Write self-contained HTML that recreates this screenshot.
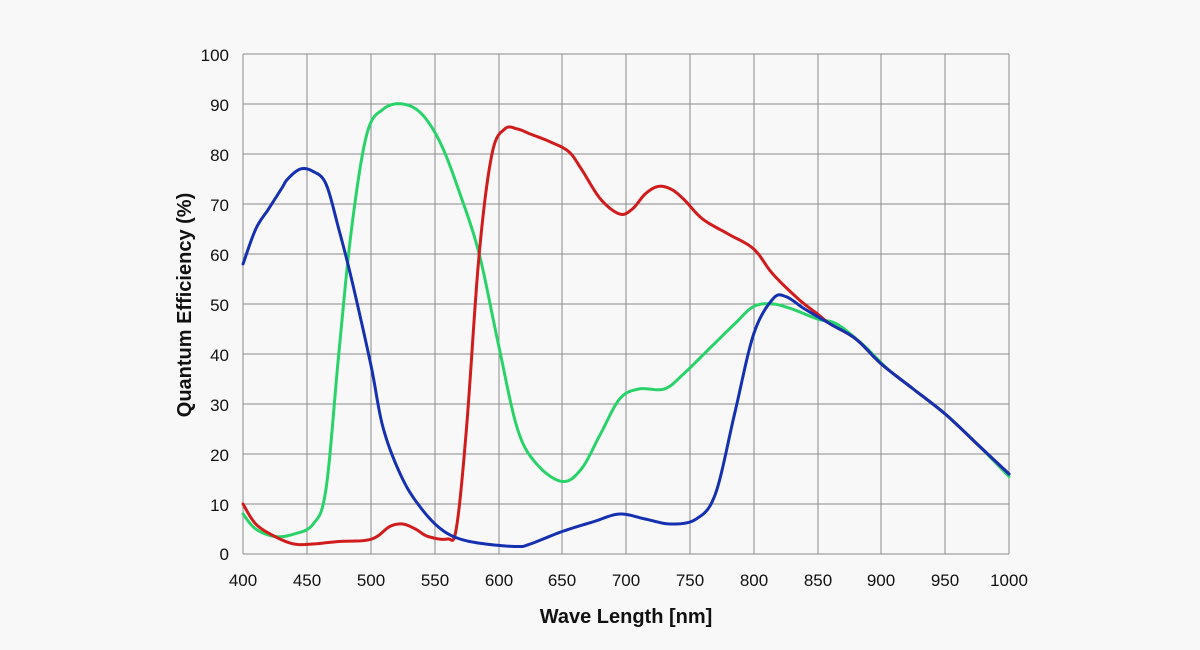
<!DOCTYPE html>
<html><head><meta charset="utf-8"><style>
html,body{margin:0;padding:0;background:#f8f8f8;}
svg{display:block;font-family:"Liberation Sans",sans-serif;}
</style></head><body>
<svg width="1200" height="650" viewBox="0 0 1200 650">
<rect width="1200" height="650" fill="#f8f8f8"/>
<g stroke="#8a8a8a" stroke-width="1" fill="none">
<path d="M243 54V554M307 54V554M371 54V554M435 54V554M499 54V554M562 54V554M626 54V554M690 54V554M754 54V554M818 54V554M881 54V554M945 54V554M1009 54V554"/>
<path d="M243 54H1009M243 104H1009M243 154H1009M243 204H1009M243 254H1009M243 304H1009M243 354H1009M243 404H1009M243 454H1009M243 504H1009M243 554H1009"/>
</g>
<g font-size="17" fill="#111" text-anchor="end">
<text x="229" y="61">100</text><text x="229" y="111">90</text><text x="229" y="161">80</text><text x="229" y="211">70</text><text x="229" y="261">60</text><text x="229" y="311">50</text><text x="229" y="361">40</text><text x="229" y="411">30</text><text x="229" y="461">20</text><text x="229" y="511">10</text><text x="229" y="560">0</text>
</g>
<g font-size="17" fill="#111" text-anchor="middle">
<text x="243" y="586">400</text><text x="307" y="586">450</text><text x="371" y="586">500</text><text x="435" y="586">550</text><text x="499" y="586">600</text><text x="562" y="586">650</text><text x="626" y="586">700</text><text x="690" y="586">750</text><text x="754" y="586">800</text><text x="818" y="586">850</text><text x="881" y="586">900</text><text x="945" y="586">950</text><text x="1009" y="586">1000</text>
</g>
<text x="626" y="623" font-size="20" font-weight="bold" text-anchor="middle" fill="#111">Wave Length [nm]</text>
<text transform="translate(191,305) rotate(-90)" font-size="20" font-weight="bold" text-anchor="middle" fill="#111">Quantum Efficiency (%)</text>
<g transform="matrix(1.2767 0 0 -5 -267.67 554)" fill="none" stroke-width="3" stroke-linejoin="round" stroke-linecap="round">
<polyline class="c" vector-effect="non-scaling-stroke" stroke="#2ad36a" points="400,8 410,5 425,3.5 440,4 455,6 465,13 475,40 485,65 497,84 510,89 525,90 540,88 555,82 570,72 585,60 600,42 615,25 630,18 650,14.5 665,17 680,24 695,31 710,33 730,33 745,36 765,41 785,46 800,49.5 815,50 830,49 850,47 865,46 885,42 905,37 925,33 950,28 975,22 1000,15.5"/>
<polyline class="c" vector-effect="non-scaling-stroke" stroke="#d01c1c" points="400,10 410,6 425,3.5 440,2 455,2 475,2.5 495,2.7 505,3.5 515,5.5 525,6 535,5 545,3.5 560,3 567,5 575,25 585,60 595,80 605,85 615,85 625,84 640,82.5 655,80.5 665,77 680,71 695,68 705,69 715,72 725,73.5 735,73 745,71 760,67 780,64 800,61 815,56 835,51 850,48 860,46 880,43 900,38 925,33 950,28 975,22 1000,16"/>
<polyline class="c" vector-effect="non-scaling-stroke" stroke="#1530b0" points="400,58 410,65 420,69 430,73 435,75 445,77 455,76.5 465,74 475,65 485,55 500,38 510,25 525,15 540,9 555,5 570,3 590,2 615,1.5 625,2 650,4.5 675,6.5 695,8 715,7 735,6 755,7 770,12 785,28 800,44 815,51 825,51.5 840,49 860,46 880,43 900,38 925,33 950,28 975,22 1000,16"/>
</g>
</svg>
<script>
document.querySelectorAll('polyline.c').forEach(function(pl){
  var p=pl.getAttribute('points').trim().split(/\s+/).map(function(s){return s.split(',').map(Number);});
  var out=[];
  for(var i=0;i<p.length-1;i++){
    var p0=p[Math.max(0,i-1)],p1=p[i],p2=p[i+1],p3=p[Math.min(p.length-1,i+2)];
    for(var k=0;k<10;k++){
      var t=k/10,t2=t*t,t3=t2*t;
      var f=function(a,b,c,d){return 0.5*((2*b)+(-a+c)*t+(2*a-5*b+4*c-d)*t2+(-a+3*b-3*c+d)*t3);};
      out.push(f(p0[0],p1[0],p2[0],p3[0]).toFixed(2)+','+f(p0[1],p1[1],p2[1],p3[1]).toFixed(2));
    }
  }
  out.push(p[p.length-1].join(','));
  pl.setAttribute('points',out.join(' '));
});
</script>
</body></html>
